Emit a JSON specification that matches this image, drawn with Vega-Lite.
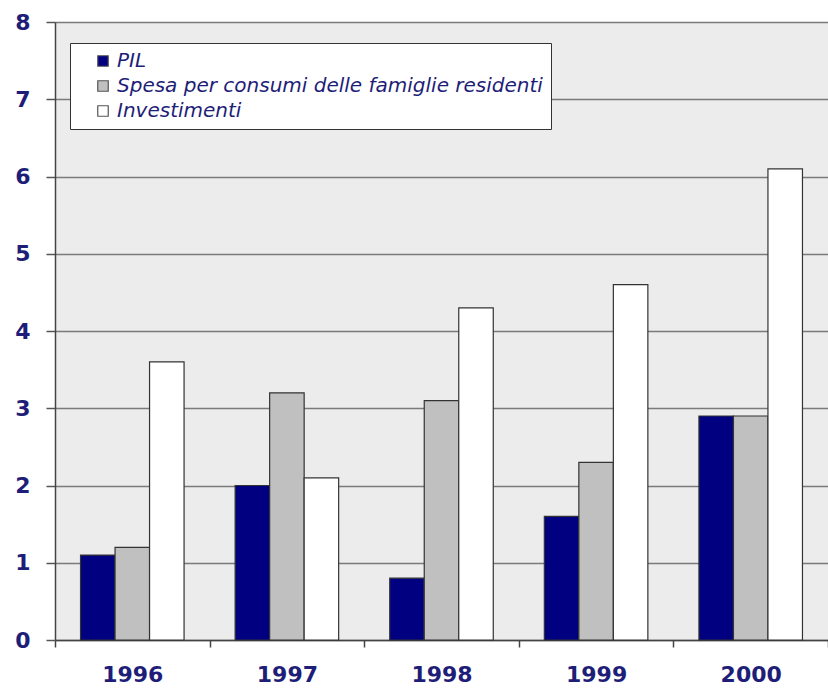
{
  "$schema": "https://vega.github.io/schema/vega-lite/v6.json",
  "width": 773,
  "height": 618,
  "autosize": "none",
  "padding": {"left": 55, "top": 22, "right": 0, "bottom": 49},
  "background": "#ffffff",
  "config": {
    "view": {"fill": "#ececec", "stroke": null},
    "font": "DejaVu Sans"
  },
  "data": {
    "values": [
      {"anno": "1996", "serie": "PIL", "valore": 1.1},
      {"anno": "1996", "serie": "Spesa per consumi delle famiglie residenti", "valore": 1.2},
      {"anno": "1996", "serie": "Investimenti", "valore": 3.6},
      {"anno": "1997", "serie": "PIL", "valore": 2.0},
      {"anno": "1997", "serie": "Spesa per consumi delle famiglie residenti", "valore": 3.2},
      {"anno": "1997", "serie": "Investimenti", "valore": 2.1},
      {"anno": "1998", "serie": "PIL", "valore": 0.8},
      {"anno": "1998", "serie": "Spesa per consumi delle famiglie residenti", "valore": 3.1},
      {"anno": "1998", "serie": "Investimenti", "valore": 4.3},
      {"anno": "1999", "serie": "PIL", "valore": 1.6},
      {"anno": "1999", "serie": "Spesa per consumi delle famiglie residenti", "valore": 2.3},
      {"anno": "1999", "serie": "Investimenti", "valore": 4.6},
      {"anno": "2000", "serie": "PIL", "valore": 2.9},
      {"anno": "2000", "serie": "Spesa per consumi delle famiglie residenti", "valore": 2.9},
      {"anno": "2000", "serie": "Investimenti", "valore": 6.1}
    ]
  },
  "mark": {"type": "bar", "stroke": "#333333", "strokeWidth": 1.2},
  "encoding": {
    "x": {
      "field": "anno",
      "type": "nominal",
      "scale": {"paddingInner": 0, "paddingOuter": 0},
      "axis": {
        "title": null,
        "labelAngle": 0,
        "labelFont": "DejaVu Sans",
        "labelFontWeight": "bold",
        "labelFontSize": 22,
        "labelColor": "#1e1e78",
        "labelPadding": 17,
        "tickBand": "extent",
        "ticks": true,
        "tickSize": 7,
        "tickColor": "#444444",
        "tickWidth": 1.5,
        "domainColor": "#444444",
        "domainWidth": 1.5,
        "grid": false
      }
    },
    "xOffset": {
      "field": "serie",
      "sort": ["PIL", "Spesa per consumi delle famiglie residenti", "Investimenti"],
      "scale": {"paddingInner": 0, "paddingOuter": 0.74}
    },
    "y": {
      "field": "valore",
      "type": "quantitative",
      "scale": {"domain": [0, 8], "nice": false},
      "axis": {
        "title": null,
        "values": [0, 1, 2, 3, 4, 5, 6, 7, 8],
        "labelFont": "DejaVu Sans",
        "labelFontWeight": "bold",
        "labelFontSize": 22,
        "labelColor": "#1e1e78",
        "labelPadding": 16,
        "tickSize": 9,
        "tickColor": "#555555",
        "tickWidth": 1.5,
        "domainColor": "#444444",
        "domainWidth": 1.5,
        "grid": true,
        "gridColor": "#7a7a7a",
        "gridWidth": 1.5
      }
    },
    "fill": {
      "field": "serie",
      "type": "nominal",
      "scale": {
        "domain": ["PIL", "Spesa per consumi delle famiglie residenti", "Investimenti"],
        "range": ["#000080", "#c0c0c0", "#ffffff"]
      },
      "legend": {
        "title": null,
        "orient": "none",
        "legendX": 15,
        "legendY": 21,
        "fillColor": "#ffffff",
        "strokeColor": "#333333",
        "padding": 8,
        "symbolType": "square",
        "symbolSize": 110,
        "symbolOffset": 15,
        "symbolStrokeColor": "#555555",
        "symbolStrokeWidth": 1.2,
        "labelFont": "DejaVu Sans",
        "labelFontStyle": "italic",
        "labelFontSize": 20,
        "labelColor": "#1e1e78",
        "labelOffset": 4,
        "rowPadding": 5,
        "labelLimit": 700
      }
    }
  }
}
